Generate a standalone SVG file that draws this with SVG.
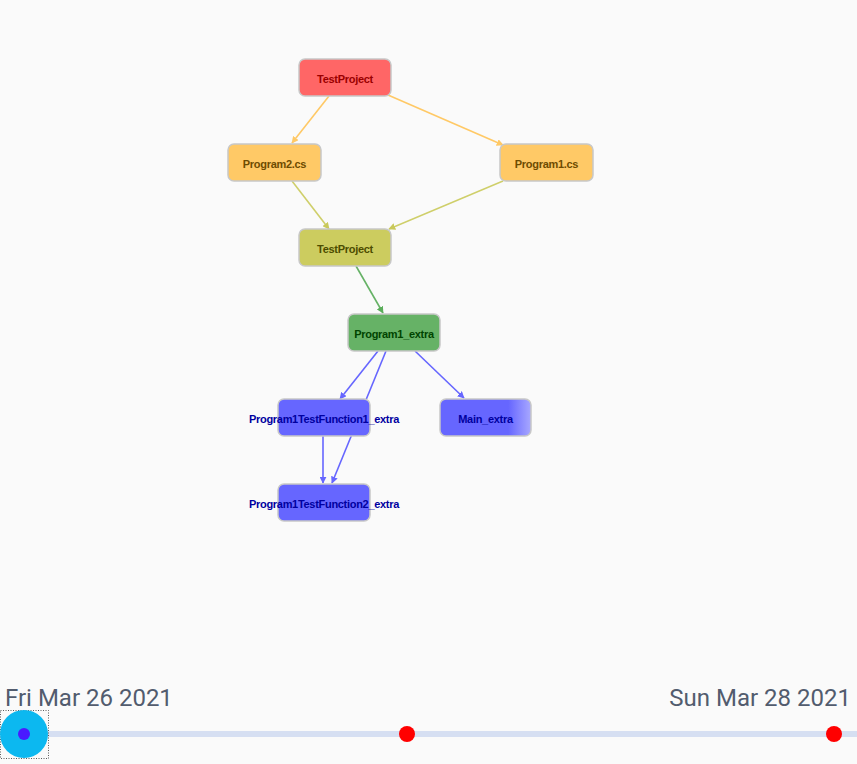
<svg xmlns="http://www.w3.org/2000/svg" width="857" height="764" viewBox="0 0 857 764">
<defs>
<style>
.n rect{stroke:#c8c8c8;stroke-width:1.5}
.n text{font-family:"Liberation Sans",Arial,sans-serif;font-size:11px;font-weight:bold;text-anchor:middle;letter-spacing:-0.3px}
.e{fill:none;stroke-width:1.6}
.date{font-family:Roboto,"Liberation Sans",sans-serif;font-size:24px;fill:#525c6e}
</style>
<marker id="mo" viewBox="0 0 10 10" refX="9" refY="5" markerWidth="7" markerHeight="7" orient="auto" markerUnits="userSpaceOnUse"><path d="M0,0L10,5L0,10z" fill="#ffc966"/></marker>
<marker id="my" viewBox="0 0 10 10" refX="9" refY="5" markerWidth="7" markerHeight="7" orient="auto" markerUnits="userSpaceOnUse"><path d="M0,0L10,5L0,10z" fill="#c9c95a"/></marker>
<marker id="mg" viewBox="0 0 10 10" refX="9" refY="5" markerWidth="7" markerHeight="7" orient="auto" markerUnits="userSpaceOnUse"><path d="M0,0L10,5L0,10z" fill="#5aad5a"/></marker>
<marker id="mb" viewBox="0 0 10 10" refX="9" refY="5" markerWidth="7" markerHeight="7" orient="auto" markerUnits="userSpaceOnUse"><path d="M0,0L10,5L0,10z" fill="#6666ff"/></marker>
<linearGradient id="gm" x1="0" y1="0" x2="1" y2="0"><stop offset="0.75" stop-color="#6666ff"/><stop offset="1" stop-color="#a8a8ff"/></linearGradient>
</defs>
<rect width="857" height="764" fill="#fafafa"/>
<g id="connectors">
<path class="e" stroke="#ffc966" marker-end="url(#mo)" d="M329,96L292,143"/>
<path class="e" stroke="#ffc966" marker-end="url(#mo)" d="M388,95L503,145"/>
<path class="e" stroke="#cfcf6a" marker-end="url(#my)" d="M292,181L329,229"/>
<path class="e" stroke="#cfcf6a" marker-end="url(#my)" d="M503,181L389,229"/>
<path class="e" stroke="#66b266" marker-end="url(#mg)" d="M356,266L383,313"/>
<path class="e" stroke="#6666ff" marker-end="url(#mb)" d="M378,351L340,399"/>
<path class="e" stroke="#6666ff" marker-end="url(#mb)" d="M386,351L332,483"/>
<path class="e" stroke="#6666ff" marker-end="url(#mb)" d="M415,351L464,398"/>
<path class="e" stroke="#6666ff" marker-end="url(#mb)" d="M323,436L323,483"/>
</g>
<g id="n1" class="n"><rect x="299" y="59" width="92" height="37" rx="6" fill="#ff6666"/><text x="345" y="83" fill="#9a0000">TestProject</text></g>
<g id="n2" class="n"><rect x="228" y="144" width="93" height="37" rx="6" fill="#ffc966"/><text x="274.5" y="168" fill="#6e4c00">Program2.cs</text></g>
<g id="n3" class="n"><rect x="500" y="144" width="93" height="37" rx="6" fill="#ffc966"/><text x="546.5" y="168" fill="#6e4c00">Program1.cs</text></g>
<g id="n4" class="n"><rect x="299" y="229" width="92" height="37" rx="6" fill="#cccc5f"/><text x="345" y="253" fill="#4d4d00">TestProject</text></g>
<g id="n5" class="n"><rect x="348" y="314" width="92" height="37" rx="6" fill="#66b266"/><text x="394" y="338" fill="#004400">Program1_extra</text></g>
<g id="n6" class="n"><rect x="278" y="399" width="92" height="37" rx="6" fill="#6666ff"/><text x="324" y="423" fill="#0000a0">Program1TestFunction1_extra</text></g>
<g id="n7" class="n"><rect x="440" y="399" width="91" height="37" rx="6" fill="url(#gm)"/><text x="485.5" y="423" fill="#0000a0">Main_extra</text></g>
<g id="n8" class="n"><rect x="278" y="484" width="92" height="37" rx="6" fill="#6666ff"/><text x="324" y="508" fill="#0000a0">Program1TestFunction2_extra</text></g>
<g id="timeline">
<text class="date" x="5" y="706">Fri Mar 26 2021</text>
<text class="date" x="851" y="706" text-anchor="end">Sun Mar 28 2021</text>
<line x1="24" y1="734" x2="857" y2="734" stroke="#d6dff2" stroke-width="6"/>
<rect x="0.5" y="710.5" width="48" height="48" fill="none" stroke="#333" stroke-width="0.8" stroke-dasharray="1,1.5"/>
<circle cx="24" cy="734" r="24" fill="#0cb8f0"/>
<circle cx="24" cy="734" r="6" fill="#4a1aff"/>
<circle cx="407" cy="734" r="8" fill="#ff0000"/>
<circle cx="834" cy="734" r="8" fill="#ff0000"/>
</g>
</svg>
